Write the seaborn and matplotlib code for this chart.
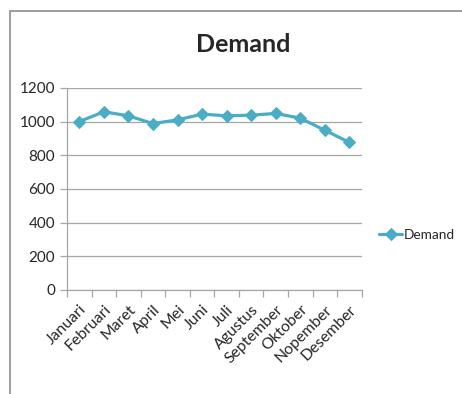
import pandas as pd
import matplotlib.pyplot as plt
import seaborn as sns
from matplotlib.patches import Rectangle

months = ['Januari', 'Februari', 'Maret', 'April', 'Mei', 'Juni', 'Juli',
          'Agustus', 'September', 'Oktober', 'Nopember', 'Desember']
demand = [1000, 1058, 1034, 988, 1010, 1044, 1034, 1038, 1048, 1020, 948, 876]

df = pd.DataFrame({'Bulan': months, 'Demand': demand})
df['pos'] = range(len(months))

sns.set_style('white')
plt.rcParams['font.family'] = ['Lato', 'DejaVu Sans']

fig = plt.figure(figsize=(4.62, 3.94), dpi=100)
ax = fig.add_axes([0.145, 0.264, 0.638, 0.513])

# outer chart frame (Excel style)
fig.patches.append(Rectangle((10 / 462, -0.1), 1.2, 1 - 11 / 394 + 0.1,
                             transform=fig.transFigure, fill=False,
                             edgecolor='#8c8c8c', linewidth=1.2))

line_color = '#4BACC6'
sns.lineplot(x='pos', y='Demand', data=df, ax=ax, color=line_color,
             marker='D', markersize=6, markeredgecolor=line_color,
             linewidth=2.3, label='Demand', legend=False)

ax.set_xlim(-0.5, len(months) - 0.5)
ax.set_ylim(0, 1200)
ax.set_yticks(range(0, 1201, 200))
ax.yaxis.grid(True, color='#a6a6a6', linewidth=0.9)
ax.set_axisbelow(True)

ax.set_xticks(range(len(months)))
ax.set_xticklabels(months, rotation=45, ha='right', rotation_mode='anchor',
                   fontsize=11.3)
ax.set_xticks([i - 0.5 for i in range(len(months) + 1)], minor=True)
ax.tick_params(axis='x', which='major', length=0, pad=9)
ax.tick_params(axis='x', which='minor', length=5, color='#a6a6a6',
               bottom=True, width=0.9)
ax.tick_params(axis='y', length=5, color='#a6a6a6', left=True, labelsize=11,
               width=0.9)
ax.set_xlabel('')
ax.set_ylabel('')

for side in ['top', 'right']:
    ax.spines[side].set_visible(False)
for side in ['left', 'bottom']:
    ax.spines[side].set_color('#a6a6a6')
    ax.spines[side].set_linewidth(0.9)

fig.text(243 / 462, 1 - 45 / 394, 'Demand', ha='center', va='center',
         fontsize=18, fontweight='bold')

handles, labels = ax.get_legend_handles_labels()
fig.legend(handles, labels, loc='center left',
           bbox_to_anchor=(379 / 462, 1 - 235 / 394), frameon=False,
           fontsize=9.8, handlelength=1.7, handletextpad=0.15, borderpad=0,
           borderaxespad=0)

plt.savefig('out.png', dpi=100)
